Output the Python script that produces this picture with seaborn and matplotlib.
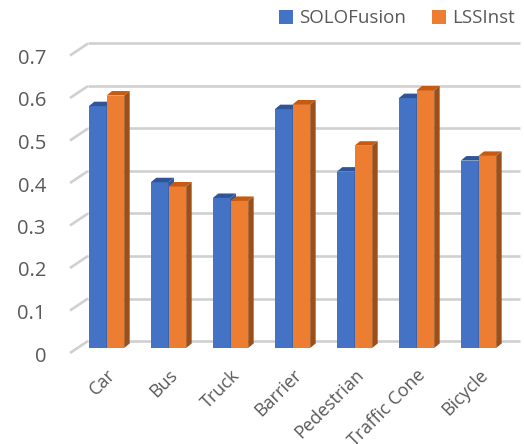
import matplotlib
matplotlib.use("Agg")
import matplotlib.pyplot as plt
from matplotlib.patches import Polygon
from matplotlib.lines import Line2D
from matplotlib.transforms import ScaledTranslation
import seaborn as sns
import pandas as pd

categories = ["Car", "Bus", "Truck", "Barrier", "Pedestrian", "Traffic Cone", "Bicycle"]
series_names = ["SOLOFusion", "LSSInst"]
solofusion = [0.569, 0.390, 0.353, 0.562, 0.415, 0.588, 0.441]
lssinst = [0.594, 0.380, 0.346, 0.573, 0.476, 0.606, 0.452]
y_ticks = [0, 0.1, 0.2, 0.3, 0.4, 0.5, 0.6, 0.7]
y_tick_labels = ["0", "0.1", "0.2", "0.3", "0.4", "0.5", "0.6", "0.7"]

front_colors = ["#4472c4", "#ed7d31"]
top_colors = ["#2f5597", "#c55a11"]
side_colors = ["#30589f", "#9c4f18"]
text_color = "#595959"
grid_color = "#d0d0d0"

df = pd.DataFrame({
    "category": categories * 2,
    "value": solofusion + lssinst,
    "model": [series_names[0]] * len(categories) + [series_names[1]] * len(categories),
})

sns.set_style("white")
plt.rcParams["font.family"] = ["Open Sans", "DejaVu Sans"]

W, H = 524, 444
fig = plt.figure(figsize=(W / 100, H / 100), dpi=100)
left_px, right_px, base_px, top_px = 77, 509, 348, 50.5
ax = fig.add_axes([left_px / W, (H - base_px) / H,
                   (right_px - left_px) / W, (base_px - top_px) / H])

sns.barplot(data=df, x="category", y="value", hue="model", palette=front_colors,
            width=0.57, saturation=1, ax=ax, legend=True, linewidth=0, zorder=2)

px_per_cat = 62.0
x0 = -29.5 / px_per_cat
x1 = x0 + (right_px - left_px) / px_per_cat
ax.set_xlim(x0, x1)
ax.set_ylim(0, 0.7)

# pixel -> data unit conversion for the pseudo-3D offsets
pxu = px_per_cat
pyu = (base_px - top_px) / 0.7

def dx(p):
    return p / pxu

def dy(p):
    return p / pyu

# back wall gridlines and left floor diagonals
for v in y_ticks:
    ax.add_line(Line2D([x0 + dx(11), x1 + dx(11)], [v + dy(7), v + dy(7)],
                       color=grid_color, lw=1.9, clip_on=False, zorder=0,
                       solid_capstyle="butt"))
    ax.add_line(Line2D([x0 - dx(7), x0 + dx(11)], [v - dy(5), v + dy(7)],
                       color=grid_color, lw=1.9, clip_on=False, zorder=0,
                       solid_capstyle="butt"))

# top and side faces of each bar
depth_x, depth_y = dx(5.5), dy(4.5)
n = len(categories)
bars = [p for p in ax.patches if p.get_height() > 0][: 2 * n]
for i, bar in enumerate(bars):
    s = i // n
    bx, bw, bh = bar.get_x(), bar.get_width(), bar.get_height()
    bar.set_zorder(2 + s)
    top = Polygon([(bx, bh), (bx + depth_x, bh + depth_y),
                   (bx + bw + depth_x, bh + depth_y), (bx + bw, bh)],
                  closed=True, facecolor=top_colors[s], edgecolor="none",
                  zorder=2 + s, clip_on=False)
    side = Polygon([(bx + bw, 0), (bx + bw + depth_x, depth_y),
                    (bx + bw + depth_x, bh + depth_y), (bx + bw, bh)],
                   closed=True, facecolor=side_colors[s], edgecolor="none",
                   zorder=2 + s, clip_on=False)
    ax.add_patch(top)
    ax.add_patch(side)

for sp in ax.spines.values():
    sp.set_visible(False)
ax.set_xlabel("")
ax.set_ylabel("")

ax.set_yticks(y_ticks)
ax.set_yticklabels(y_tick_labels)
ax.tick_params(axis="y", length=0, pad=31 * 0.72, labelsize=14.5, labelcolor=text_color)
for lab in ax.get_yticklabels():
    lab.set_transform(lab.get_transform() + ScaledTranslation(0, -0.06, fig.dpi_scale_trans))

ax.set_xticks(range(n))
ax.set_xticklabels(categories, rotation=45, ha="right", rotation_mode="anchor")
ax.tick_params(axis="x", length=0, pad=13, labelsize=13, labelcolor=text_color)

handles, labels = ax.get_legend_handles_labels()
ax.get_legend().remove()
fig.legend(handles[:2], labels[:2], loc="upper right", bbox_to_anchor=(1.0, 1.0),
           ncol=2, frameon=False, fontsize=13.5, labelcolor=text_color,
           handlelength=0.75, handleheight=0.75, handletextpad=0.3,
           columnspacing=1.4, borderaxespad=0.1)

fig.savefig("out.png", dpi=100)
